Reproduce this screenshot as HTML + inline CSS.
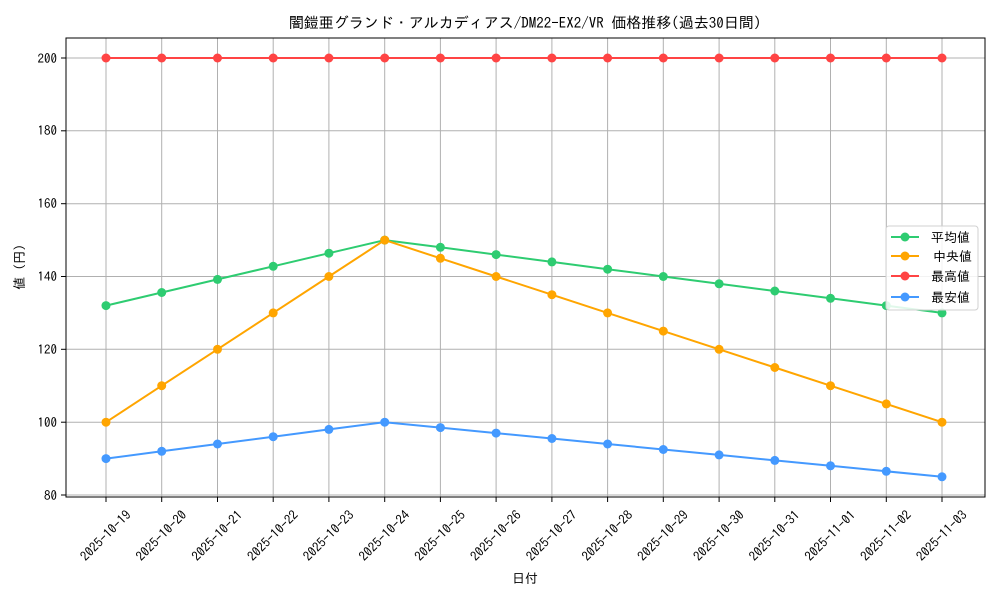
<!DOCTYPE html><html><head><meta charset="utf-8"><style>body{margin:0;background:#fff}svg{display:block}text{font-family:"IPAGothic","Liberation Sans","Noto Sans CJK JP",sans-serif;fill:#000}</style></head><body>
<svg width="1000" height="600" viewBox="0 0 1000 600">
<defs>
<marker id="mg" viewBox="0 0 10 10" refX="5" refY="5" markerWidth="10" markerHeight="10" markerUnits="userSpaceOnUse"><circle cx="5" cy="5" r="4.5" fill="#2ecc71"/></marker>
<marker id="mo" viewBox="0 0 10 10" refX="5" refY="5" markerWidth="10" markerHeight="10" markerUnits="userSpaceOnUse"><circle cx="5" cy="5" r="4.5" fill="#ffa500"/></marker>
<marker id="mr" viewBox="0 0 10 10" refX="5" refY="5" markerWidth="10" markerHeight="10" markerUnits="userSpaceOnUse"><circle cx="5" cy="5" r="4.5" fill="#ff4444"/></marker>
<marker id="mb" viewBox="0 0 10 10" refX="5" refY="5" markerWidth="10" markerHeight="10" markerUnits="userSpaceOnUse"><circle cx="5" cy="5" r="4.5" fill="#4499ff"/></marker>
</defs>
<text x="525" y="28" font-size="15" text-anchor="middle">闇鎧亜グランド・アルカディアス/DM22-EX2/VR 価格推移(過去30日間)</text>
<g stroke="#b0b0b0" stroke-width="1">
<line x1="66" x2="985" y1="495" y2="495"/><line x1="66" x2="985" y1="422.2" y2="422.2"/><line x1="66" x2="985" y1="349.3" y2="349.3"/><line x1="66" x2="985" y1="276.5" y2="276.5"/><line x1="66" x2="985" y1="203.7" y2="203.7"/><line x1="66" x2="985" y1="130.8" y2="130.8"/><line x1="66" x2="985" y1="58" y2="58"/>
<line x1="106" x2="106" y1="38" y2="497"/><line x1="161.7" x2="161.7" y1="38" y2="497"/><line x1="217.5" x2="217.5" y1="38" y2="497"/><line x1="273.2" x2="273.2" y1="38" y2="497"/><line x1="328.9" x2="328.9" y1="38" y2="497"/><line x1="384.7" x2="384.7" y1="38" y2="497"/><line x1="440.4" x2="440.4" y1="38" y2="497"/><line x1="496.1" x2="496.1" y1="38" y2="497"/><line x1="551.9" x2="551.9" y1="38" y2="497"/><line x1="607.6" x2="607.6" y1="38" y2="497"/><line x1="663.3" x2="663.3" y1="38" y2="497"/><line x1="719.1" x2="719.1" y1="38" y2="497"/><line x1="774.8" x2="774.8" y1="38" y2="497"/><line x1="830.5" x2="830.5" y1="38" y2="497"/><line x1="886.3" x2="886.3" y1="38" y2="497"/><line x1="942" x2="942" y1="38" y2="497"/>
</g>
<g stroke="#000" stroke-width="1">
<line x1="61" x2="66" y1="495" y2="495"/><line x1="61" x2="66" y1="422.2" y2="422.2"/><line x1="61" x2="66" y1="349.3" y2="349.3"/><line x1="61" x2="66" y1="276.5" y2="276.5"/><line x1="61" x2="66" y1="203.7" y2="203.7"/><line x1="61" x2="66" y1="130.8" y2="130.8"/><line x1="61" x2="66" y1="58" y2="58"/>
<line x1="106" x2="106" y1="497" y2="502"/><line x1="161.7" x2="161.7" y1="497" y2="502"/><line x1="217.5" x2="217.5" y1="497" y2="502"/><line x1="273.2" x2="273.2" y1="497" y2="502"/><line x1="328.9" x2="328.9" y1="497" y2="502"/><line x1="384.7" x2="384.7" y1="497" y2="502"/><line x1="440.4" x2="440.4" y1="497" y2="502"/><line x1="496.1" x2="496.1" y1="497" y2="502"/><line x1="551.9" x2="551.9" y1="497" y2="502"/><line x1="607.6" x2="607.6" y1="497" y2="502"/><line x1="663.3" x2="663.3" y1="497" y2="502"/><line x1="719.1" x2="719.1" y1="497" y2="502"/><line x1="774.8" x2="774.8" y1="497" y2="502"/><line x1="830.5" x2="830.5" y1="497" y2="502"/><line x1="886.3" x2="886.3" y1="497" y2="502"/><line x1="942" x2="942" y1="497" y2="502"/>
</g>
<g fill="none" stroke-width="2">
<polyline stroke="#2ecc71" marker-start="url(#mg)" marker-mid="url(#mg)" marker-end="url(#mg)" points="106,305.6 161.7,292.5 217.5,279.4 273.2,266.3 328.9,253.2 384.7,240.1 440.4,247.3 496.1,254.6 551.9,261.9 607.6,269.2 663.3,276.5 719.1,283.8 774.8,291 830.5,298.3 886.3,305.6 942,312.9"/>
<polyline stroke="#ffa500" marker-start="url(#mo)" marker-mid="url(#mo)" marker-end="url(#mo)" points="106,422.2 161.7,385.7 217.5,349.3 273.2,312.9 328.9,276.5 384.7,240.1 440.4,258.3 496.1,276.5 551.9,294.7 607.6,312.9 663.3,331.1 719.1,349.3 774.8,367.5 830.5,385.7 886.3,403.9 942,422.2"/>
<polyline stroke="#ff4444" marker-start="url(#mr)" marker-mid="url(#mr)" marker-end="url(#mr)" points="106,58 161.7,58 217.5,58 273.2,58 328.9,58 384.7,58 440.4,58 496.1,58 551.9,58 607.6,58 663.3,58 719.1,58 774.8,58 830.5,58 886.3,58 942,58"/>
<polyline stroke="#4499ff" marker-start="url(#mb)" marker-mid="url(#mb)" marker-end="url(#mb)" points="106,458.6 161.7,451.3 217.5,444 273.2,436.7 328.9,429.4 384.7,422.2 440.4,427.6 496.1,433.1 551.9,438.5 607.6,444 663.3,449.5 719.1,454.9 774.8,460.4 830.5,465.8 886.3,471.3 942,476.8"/>
</g>
<rect x="66" y="38" width="919" height="459" fill="none" stroke="#000" stroke-width="1"/>
<g font-size="13" text-anchor="end">
<text x="57" y="500">80</text><text x="57" y="427">100</text><text x="57" y="354">120</text><text x="57" y="281">140</text><text x="57" y="208">160</text><text x="57" y="135">180</text><text x="57" y="63">200</text>
</g>
<g font-size="13" text-anchor="middle">
<text transform="translate(106,536) rotate(-45)" dy="4">2025-10-19</text><text transform="translate(161.7,536) rotate(-45)" dy="4">2025-10-20</text><text transform="translate(217.5,536) rotate(-45)" dy="4">2025-10-21</text><text transform="translate(273.2,536) rotate(-45)" dy="4">2025-10-22</text><text transform="translate(328.9,536) rotate(-45)" dy="4">2025-10-23</text><text transform="translate(384.7,536) rotate(-45)" dy="4">2025-10-24</text><text transform="translate(440.4,536) rotate(-45)" dy="4">2025-10-25</text><text transform="translate(496.1,536) rotate(-45)" dy="4">2025-10-26</text><text transform="translate(551.9,536) rotate(-45)" dy="4">2025-10-27</text><text transform="translate(607.6,536) rotate(-45)" dy="4">2025-10-28</text><text transform="translate(663.3,536) rotate(-45)" dy="4">2025-10-29</text><text transform="translate(719.1,536) rotate(-45)" dy="4">2025-10-30</text><text transform="translate(774.8,536) rotate(-45)" dy="4">2025-10-31</text><text transform="translate(830.5,536) rotate(-45)" dy="4">2025-11-01</text><text transform="translate(886.3,536) rotate(-45)" dy="4">2025-11-02</text><text transform="translate(942,536) rotate(-45)" dy="4">2025-11-03</text>
</g>
<text x="525" y="583" font-size="13" text-anchor="middle">日付</text>
<text transform="translate(24,267) rotate(-90)" font-size="13" text-anchor="middle">値 (円)</text>
<rect x="886" y="226" width="92" height="84" rx="3" fill="#fff" fill-opacity="0.85" stroke="#d0d0d0"/>
<g stroke-width="2">
<line x1="891" x2="919" y1="237" y2="237" stroke="#2ecc71"/><circle cx="905" cy="237" r="4.5" fill="#2ecc71"/>
<line x1="891" x2="919" y1="256" y2="256" stroke="#ffa500"/><circle cx="905" cy="256" r="4.5" fill="#ffa500"/>
<line x1="891" x2="919" y1="276" y2="276" stroke="#ff4444"/><circle cx="905" cy="276" r="4.5" fill="#ff4444"/>
<line x1="891" x2="919" y1="297" y2="297" stroke="#4499ff"/><circle cx="905" cy="297" r="4.5" fill="#4499ff"/>
</g>
<g font-size="13"><text x="931" y="242">平均値</text><text x="933" y="261">中央値</text><text x="931" y="281">最高値</text><text x="931" y="302">最安値</text></g>
</svg></body></html>
